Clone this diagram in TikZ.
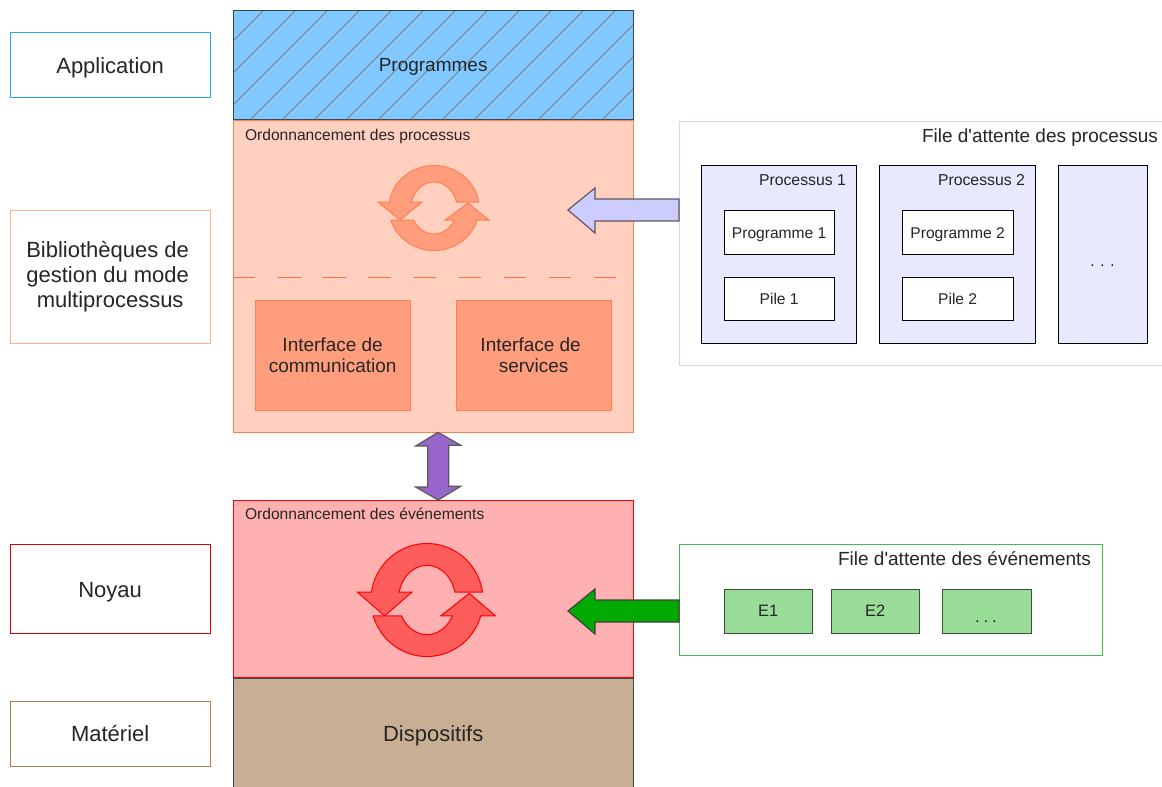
\documentclass[tikz,border=0pt]{standalone}
\usepackage{fontspec}
\setmainfont{Liberation Sans}
\newfontfamily\plainsans{Liberation Sans}
\usetikzlibrary{calc}
\definecolor{appline}{HTML}{22AAEE}
\definecolor{progfill}{HTML}{80C8FF}
\definecolor{darkline}{HTML}{3A4650}
\definecolor{orline}{HTML}{FF8050}
\definecolor{ordash}{HTML}{FF7040}
\definecolor{orsoft}{HTML}{FFB090}
\definecolor{orfill}{HTML}{FFCFC0}
\definecolor{orbox}{HTML}{FF9D7D}
\definecolor{redfill}{HTML}{FFB0B0}
\definecolor{redicon}{HTML}{FF5C5C}
\definecolor{brownline}{HTML}{B08050}
\definecolor{brownfill}{HTML}{C8AF94}
\definecolor{lavline}{HTML}{D4D4F8}
\definecolor{lavfill}{HTML}{E8E8FF}
\definecolor{arrowlav}{HTML}{CCCCFF}
\definecolor{purplefill}{HTML}{9966CC}
\definecolor{greenline}{HTML}{44BB44}
\definecolor{greenfill}{HTML}{99DD99}
\definecolor{greendark}{HTML}{3C4F3C}
\definecolor{greenarrow}{HTML}{00AA00}
\definecolor{inktext}{HTML}{262626}
\tikzset{
  x=1pt,y=-1pt,
  plain/.style={rectangle,draw,inner sep=0pt,outer sep=0pt,line width=1pt,align=center,text=inktext},
  big/.style={font=\fontsize{22}{25}\selectfont},
  mid/.style={font=\fontsize{19}{21}\selectfont},
  small/.style={font=\fontsize{15.6}{18}\selectfont},
  lab/.style={inner sep=0pt,outer sep=0pt,anchor=west,text=inktext},
  sidebox/.style={plain,big,fill=white},
  blockarrow/.style={draw=black!65,line width=1.2pt,line join=miter},
  dotlab/.style={inner sep=0pt,outer sep=0pt,anchor=base,text=black,font=\fontsize{15}{18}\selectfont},
}
\newcommand{\bx}[7]{\node[plain,minimum width=#4pt-0.7pt,minimum height=#5pt-0.7pt,anchor=north west,#6] (#1) at (#2,#3) {#7};}
\newcommand{\lowered}[2]{\raisebox{-#1pt}[0pt][0pt]{#2}}
\newcommand{\cycleicon}[7]{%
\begin{scope}[shift={(#1,#2)},xscale=#3,yscale=#4]
\filldraw[draw=#5,fill=#6,line width=#7pt,line join=miter]
  plot[domain=-8.1:-171.9,samples=40] ({45*cos(\x)},{42.5*sin(\x)})
  -- (-56,-6) -- (-34,12) -- (-12,-6) -- (-22.4,-6)
  -- plot[domain=-166.7:-13.3,samples=30] ({23*cos(\x)},{26*sin(\x)}) -- cycle;
\filldraw[draw=#5,fill=#6,line width=#7pt,line join=miter]
  plot[domain=163.6:16.4,samples=40] ({45*cos(\x)},{42.5*sin(\x)})
  -- (55,12) -- (34,-5) -- (11,12) -- (20.4,12)
  -- plot[domain=27.5:152.5,samples=30] ({23*cos(\x)},{26*sin(\x)}) -- cycle;
\end{scope}}
\begin{document}
\begin{tikzpicture}
\useasboundingbox (0,0) rectangle (1162,787);
% left labels
\bx{app}{10}{32}{201}{66}{sidebox,draw=appline}{\lowered{8.7}{Application}}
\bx{lib}{10}{210}{201}{134}{sidebox,draw=orsoft}{Bibliothèques de\hspace{5pt}\mbox{}\\gestion du mode\hspace{5pt}\mbox{}\\multiprocessus}
\bx{noy}{10}{544}{201}{90}{sidebox,draw=red!85!black}{\lowered{8.7}{Noyau}}
\bx{mat}{10}{701}{201}{66}{sidebox,draw=brownline}{Matériel}
% central stack
\bx{proc}{233}{120}{401}{313}{draw=orline,fill=orfill}{}
\bx{prog}{233}{10}{401}{110}{mid,draw=darkline,fill=progfill,
  path picture={\foreach \k in {0,...,16}{\draw[black!50,line width=.8pt]
    ($(path picture bounding box.north west)+(31+32*\k,0)$) -- ++(-112,112);}}}{\lowered{6.9}{Programmes}}
\node[lab,small] (ordp) at (245,136) {Ordonnancement des processus};
\coordinate (dashl) at (proc.west |- 0,277);
\coordinate (dashr) at (620,277);
\draw[ordash,line width=1pt,dash pattern=on 22.4pt off 22.7pt] (dashl) -- (dashr);
\bx{ifc}{255}{300}{156}{111}{mid,draw=orline,fill=orbox}{Interface de\\communication}
\bx{ifs}{456}{300}{156}{111}{mid,draw=orline,fill=orbox}{Interface de\hspace{6pt}\mbox{}\\services}
\bx{event}{233}{500}{401}{178}{draw=red,fill=redfill}{}
\node[lab,small] (orde) at (245,514) {Ordonnancement des événements};
\bx{disp}{233}{678}{401}{112}{big,draw=darkline,fill=brownfill}{\lowered{7.7}{Dispositifs}}
% cycle icons
\cycleicon{434}{208}{1}{1}{orline}{orbox}{1}
\cycleicon{427}{600}{1.245}{1.33}{red}{redicon}{1}
% process queue
\bx{filep}{679}{121}{500}{245}{draw=lavline,fill=white}{}
\node[lab,mid,anchor=east] (filept) at (1158,137.5) {\plainsans File d'attente des processus};
\bx{p1}{701}{165}{156}{179}{draw=black,fill=lavfill}{}
\bx{p2}{879}{165}{157}{179}{draw=black,fill=lavfill}{}
\bx{p3}{1058}{165}{90}{179}{draw=black,fill=lavfill}{}
\node[dotlab] (p3t) at (1102.5,266) {\addfontfeature{LetterSpace=39}...};
\node[lab,font=\fontsize{15.8}{18}\selectfont] (p1t) at (759,180) {Processus 1};
\node[lab,font=\fontsize{15.8}{18}\selectfont] (p2t) at (938,180) {Processus 2};
\bx{pg1}{724}{210}{111}{45}{small,draw=black,fill=white}{\lowered{6.5}{Programme 1}}
\bx{pi1}{724}{277}{111}{44}{small,draw=black,fill=white}{Pile 1}
\bx{pg2}{902}{210}{112}{45}{small,draw=black,fill=white}{\lowered{6.5}{Programme 2}}
\bx{pi2}{902}{277}{112}{44}{small,draw=black,fill=white}{Pile 2}
% event queue
\bx{filee}{679}{544}{424}{112}{draw=greenline,fill=white}{}
\node[lab,mid,anchor=east] (filett) at (1091,559) {\plainsans File d'attente des événements};
\bx{e1}{724}{589}{89}{45}{font=\fontsize{16.5}{18}\selectfont,draw=greendark,fill=greenfill}{E1}
\bx{e2}{831}{589}{89}{45}{font=\fontsize{16.5}{18}\selectfont,draw=greendark,fill=greenfill}{E2}
\bx{e3}{942}{589}{90}{45}{draw=greendark,fill=greenfill}{}
\node[dotlab] (e3t) at (986,622) {\addfontfeature{LetterSpace=29}...};
% block arrows
\draw[blockarrow,fill=arrowlav] (filep.west |- 0,199) -- ++(-84,0) -- ++(0,-11) -- ++(-27,22)
  -- ++(27,23) -- ++(0,-12) -- ++(84,0) -- cycle;
\draw[blockarrow,draw=black!75,fill=greenarrow] (filee.west |- 0,600) -- ++(-84,0) -- ++(0,-11) -- ++(-27,22)
  -- ++(27,23) -- ++(0,-12) -- ++(84,0) -- cycle;
\draw[blockarrow,fill=purplefill] ($(proc.south)+(5,0)$) -- ++(22.5,13) -- ++(-12,0) -- ++(0,41)
  -- ++(12,0) -- ($(event.north)+(5,0)$) -- ++(-22.5,-13) -- ++(12,0) -- ++(0,-41) -- ++(-12,0) -- cycle;
\end{tikzpicture}
\end{document}
